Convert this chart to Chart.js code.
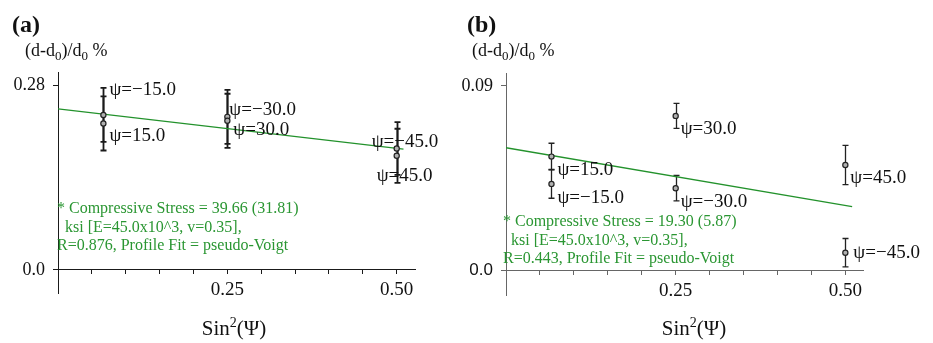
<!DOCTYPE html>
<html>
<head>
<meta charset="utf-8">
<script src="https://cdn.jsdelivr.net/npm/chart.js@4.4.1/dist/chart.umd.min.js"></script>
<style>
  html, body { margin: 0; padding: 0; background: #fff; }
  #wrap { position: relative; width: 933px; height: 343px; overflow: hidden;
          font-family: "Liberation Serif", "Times New Roman", serif; color: #111; }
  canvas { position: absolute; top: 0; }
  .t { position: absolute; white-space: nowrap; line-height: 1; }
  .panel { font-weight: bold; font-size: 24px; }
  .ylab { font-size: 18px; }
  .ylab sub { font-size: 13px; vertical-align: -4px; line-height: 0; }
  .xlab { font-size: 21px; transform: translateX(-50%); }
  .xlab sup { font-size: 14px; vertical-align: 8px; line-height: 0; }
  .note { color: #2a9632; font-size: 16px; line-height: 18.5px; }
  .note .ind { padding-left: 8px; }
</style>
</head>
<body>
<div id="wrap">
  <canvas id="chartA" width="452" height="343" style="left:0"></canvas>
  <canvas id="chartB" width="481" height="343" style="left:452px"></canvas>

  <div class="t panel" style="left:12px; top:12px">(a)</div>
  <div class="t panel" style="left:467px; top:12px">(b)</div>

  <div class="t ylab" style="left:25px; top:41px">(d-d<sub>0</sub>)/d<sub>0</sub> %</div>
  <div class="t ylab" style="left:472px; top:41px">(d-d<sub>0</sub>)/d<sub>0</sub> %</div>

  <div class="t xlab" style="left:234px; top:318px">Sin<sup>2</sup>(Ψ)</div>
  <div class="t xlab" style="left:694px; top:318px">Sin<sup>2</sup>(Ψ)</div>

  <div class="t note" style="left:57px; top:199px">
    <div>* Compressive Stress = 39.66 (31.81)</div>
    <div class="ind">ksi [E=45.0x10^3, v=0.35],</div>
    <div>R=0.876, Profile Fit = pseudo-Voigt</div>
  </div>
  <div class="t note" style="left:503px; top:212px">
    <div>* Compressive Stress = 19.30 (5.87)</div>
    <div class="ind">ksi [E=45.0x10^3, v=0.35],</div>
    <div>R=0.443, Profile Fit = pseudo-Voigt</div>
  </div>
</div>

<script>
// sin²ψ for the six tilt angles (same sequence in both panels)
const SIN2_PSI = [0.067, 0.067, 0.25, 0.25, 0.5, 0.5];

// Panel (a): tilt angles, lattice strain (d-d0)/d0 % and error
const PSI_A    = [-15, 15, -30, 30, -45, 45];
const STRAIN_A = [0.235, 0.222, 0.232, 0.226, 0.184, 0.173];
const ERR_A    = [0.041, 0.041, 0.041, 0.041, 0.040, 0.041];

// Panel (b)
const PSI_B    = [15, -15, 30, -30, 45, -45];
const STRAIN_B = [0.0556, 0.0423, 0.0754, 0.0402, 0.0515, 0.0088];
const ERR_B    = [0.0065, 0.0070, 0.0061, 0.0062, 0.0096, 0.0069];

// Linear regression lines (end points)
const FIT_X = [0, 0.51];
const FIT_A = [0.244, 0.183];
const FIT_B = [0.0599, 0.0312];

// Axis ticks
const X_TICKS      = [0.05, 0.10, 0.15, 0.20, 0.25, 0.30, 0.35, 0.40, 0.45, 0.50];
const X_TICK_TEXT  = ['', '', '', '', '0.25', '', '', '', '', '0.50'];
const Y_TICKS_A    = [0, 0.28];
const Y_TICK_TEXT_A = ['0.0', '0.28'];
const Y_TICKS_B    = [0, 0.09];
const Y_TICK_TEXT_B = ['0.0', '0.09'];

// Label placement relative to each point: [dx, dy] in pixels
const LABEL_OFFSET_A = [[6, -25], [6, 13], [2, -7], [6, 9], [-25, -7], [-20, 20]];
const LABEL_OFFSET_B = [[6, 13], [6, 14], [5, 13], [5, 14], [5, 13], [8, 0]];

const GREEN = '#23922c';
const SERIF = '"Liberation Serif", "Times New Roman", serif';
const SANS = '"Liberation Sans", Arial, sans-serif';

function psiText(v) {
  return 'ψ=' + (v < 0 ? '−' : '') + Math.abs(v).toFixed(1);
}

// Error bars under the points, ψ labels above everything
function makePsiMarks(cfg) {
  return {
    id: 'psiMarks',
    beforeDatasetsDraw(chart) {
      const { ctx, scales: { x, y } } = chart;
      ctx.save();
      ctx.strokeStyle = cfg.barColor;
      ctx.lineWidth = cfg.barWidth;
      cfg.values.forEach((v, i) => {
        const px = Math.round(x.getPixelForValue(SIN2_PSI[i])) + 0.5;
        const top = y.getPixelForValue(v + cfg.errors[i]);
        const bot = y.getPixelForValue(v - cfg.errors[i]);
        ctx.beginPath();
        ctx.moveTo(px, top); ctx.lineTo(px, bot);
        ctx.moveTo(px - 3, top); ctx.lineTo(px + 3, top);
        ctx.moveTo(px - 3, bot); ctx.lineTo(px + 3, bot);
        ctx.stroke();
      });
      ctx.restore();
    },
    afterDatasetsDraw(chart) {
      const { ctx, scales: { x, y } } = chart;
      ctx.save();
      ctx.fillStyle = '#111';
      ctx.font = '19px ' + SERIF;
      ctx.textAlign = 'left';
      ctx.textBaseline = 'middle';
      cfg.values.forEach((v, i) => {
        const px = x.getPixelForValue(SIN2_PSI[i]);
        const py = y.getPixelForValue(v);
        const [dx, dy] = cfg.offsets[i];
        ctx.fillText(psiText(cfg.psi[i]), px + dx, py + dy);
      });
      ctx.restore();
    }
  };
}

function makeChart(id, cfg) {
  return new Chart(document.getElementById(id), {
    type: 'scatter',
    data: {
      datasets: [
        {
          data: SIN2_PSI.map((x, i) => ({ x, y: cfg.values[i] })),
          pointRadius: 2.6,
          pointBorderWidth: 1.2,
          pointBorderColor: '#222',
          pointBackgroundColor: '#b0b0b0',
          showLine: false
        },
        {
          type: 'line',
          data: FIT_X.map((x, i) => ({ x, y: cfg.fit[i] })),
          borderColor: GREEN,
          borderWidth: 1.3,
          pointRadius: 0,
          fill: false,
          tension: 0
        }
      ]
    },
    options: {
      responsive: false,
      animation: false,
      devicePixelRatio: 1,
      layout: { padding: cfg.padding },
      plugins: { legend: { display: false }, tooltip: { enabled: false } },
      scales: {
        x: {
          type: 'linear',
          min: 0,
          max: cfg.xMax,
          position: { y: 0 },
          afterBuildTicks: s => { s.ticks = X_TICKS.map(v => ({ value: v })); },
          ticks: {
            callback: (v, i) => X_TICK_TEXT[i],
            font: { family: SERIF, size: 19 },
            color: '#111',
            padding: 5,
            maxRotation: 0,
            autoSkip: false
          },
          grid: { drawOnChartArea: false, drawTicks: true, tickLength: 4, color: cfg.axisColor },
          border: { display: true, color: cfg.axisColor, width: 1 }
        },
        y: {
          type: 'linear',
          min: cfg.yMin,
          max: cfg.yMax,
          position: 'left',
          afterBuildTicks: s => { s.ticks = cfg.yTicks.map(v => ({ value: v })); },
          afterFit: s => { s.width = cfg.axisLeft; },
          ticks: {
            callback: (v, i) => cfg.yText[i],
            font: ctx => (cfg.sansZero && ctx.index === 0)
              ? { family: SANS, size: 17 }
              : { family: SERIF, size: 18 },
            color: '#111',
            padding: 8,
            autoSkip: false
          },
          grid: { drawOnChartArea: false, drawTicks: true, tickLength: 5, color: cfg.axisColor },
          border: { display: true, color: cfg.axisColor, width: 1 }
        }
      }
    },
    plugins: [makePsiMarks(cfg)]
  });
}

makeChart('chartA', {
  values: STRAIN_A, errors: ERR_A, psi: PSI_A, offsets: LABEL_OFFSET_A, fit: FIT_A,
  yTicks: Y_TICKS_A, yText: Y_TICK_TEXT_A,
  xMax: 0.527, yMin: -0.035, yMax: 0.30,
  axisLeft: 58, padding: { left: 0, top: 72, right: 37, bottom: 50 },
  axisColor: '#1a1a1a', barColor: '#1a1a1a', barWidth: 1.8, sansZero: false
});

makeChart('chartB', {
  values: STRAIN_B, errors: ERR_B, psi: PSI_B, offsets: LABEL_OFFSET_B, fit: FIT_B,
  yTicks: Y_TICKS_B, yText: Y_TICK_TEXT_B,
  xMax: 0.526, yMin: -0.0118, yMax: 0.0963,
  axisLeft: 54, padding: { left: 0, top: 73, right: 70, bottom: 48 },
  axisColor: '#666', barColor: '#222', barWidth: 1.3, sansZero: true
});
</script>
</body>
</html>
